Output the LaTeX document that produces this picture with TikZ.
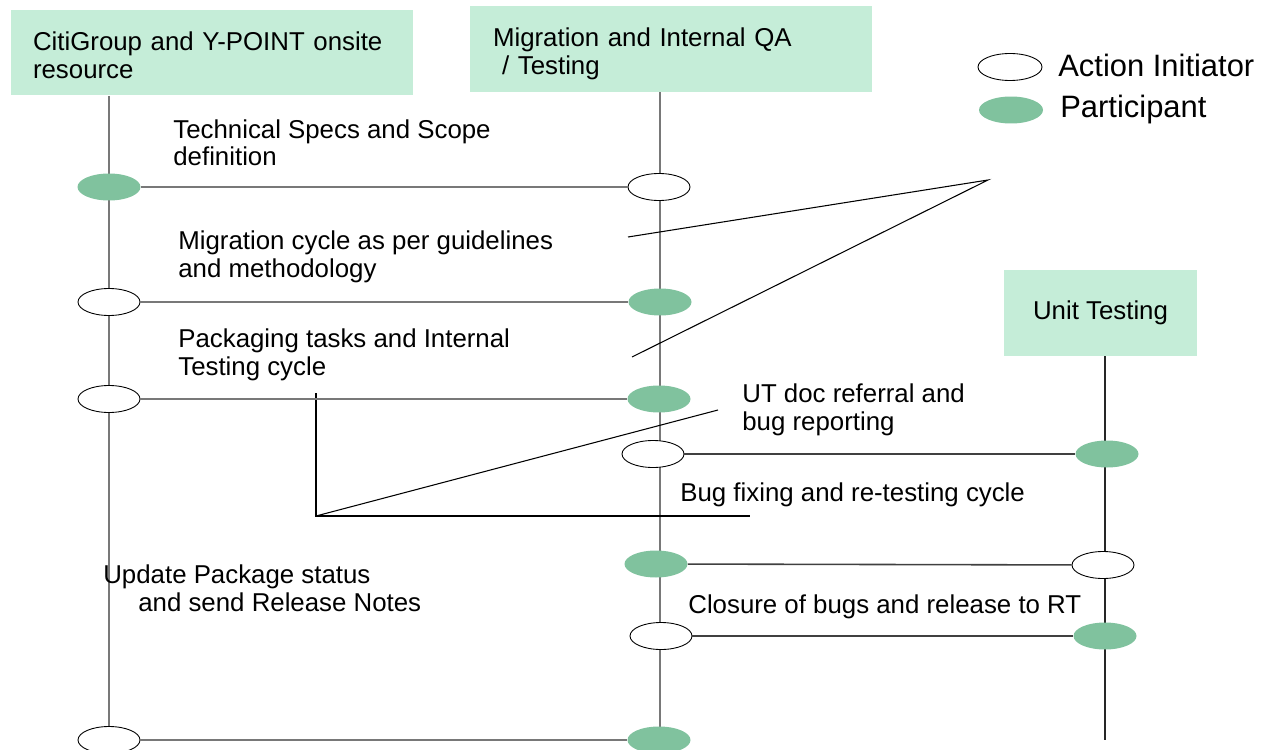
\documentclass[tikz,border=0pt]{standalone}
\usepackage{fontspec}
\setmainfont{Liberation Sans}
\usetikzlibrary{shapes.geometric}
\definecolor{boxgreen}{RGB}{197,237,216}
\definecolor{dotgreen}{RGB}{128,194,158}
\definecolor{lifegray}{RGB}{120,120,120}
\begin{document}
\begin{tikzpicture}[x=0.02cm,y=-0.02cm,
  txt/.style={font=\fontsize{14.7}{15.9}\selectfont},
  lbl/.style={txt, align=left, inner sep=0pt, anchor=base west},
  legtxt/.style={font=\fontsize{17.6}{20}\selectfont, inner sep=0pt, anchor=base west},
  box/.style={txt, fill=boxgreen, draw=none, minimum height=1.72cm},
  init/.style={ellipse, draw=black, line width=0.5pt, fill=white, minimum width=1.24cm, minimum height=0.54cm, inner sep=0pt},
  part/.style={ellipse, fill=dotgreen, draw=none, minimum width=1.26cm, minimum height=0.54cm, inner sep=0pt},
  life/.style={draw=lifegray, line width=1.1pt},
  msg/.style={draw=lifegray, line width=1.1pt},
  msgdark/.style={draw=black!75, line width=0.9pt},
  call/.style={draw=black, line width=0.6pt}]
\useasboundingbox (0,0) rectangle (1268,750);

% header boxes
\node[box, minimum width=8.04cm, text width=7.16cm, inner xsep=0.44cm, align=left] (hcity) at (212,52.5) {\rule{0pt}{14pt}CitiGroup and Y-POINT onsite\\resource};
\node[box, minimum width=8.04cm, text width=7.12cm, inner xsep=0.46cm, align=left] (hmig) at (671,49) {\rule{0pt}{16.5pt}Migration and Internal QA\\\hspace*{0.35em}/ Testing};
\node[box, minimum width=3.86cm, align=center] (hunit) at (1100.5,313) {Unit Testing};

% lifelines
\coordinate (e1) at (109,750);
\coordinate (e2) at (660,750);
\coordinate (e3) at (1105,740);
\draw[life] (hcity.south -| e1) -- (e1);
\draw[life] (hmig.south -| e2) -- (e2);
\draw[draw=black!85, line width=0.8pt] (hunit.south -| e3) -- (e3);

% callout lines
\coordinate (v1) at (988,180);
\coordinate (v1a) at (628,237);
\coordinate (v1b) at (632,357);
\draw[call] (v1a) -- (v1) -- (v1b);
\coordinate (k0) at (316,393);
\coordinate (k1) at (316,516);
\coordinate (k2) at (750,516);
\coordinate (k3) at (718,410);
\draw[call] (k0) -- (k1) -- (k2);
\draw[call] (k1) -- (k3);

% activation ellipses
\node[part] (a1) at (109,187) {};
\node[init] (b1) at (659,187) {};
\node[init] (a2) at (109,302) {};
\node[part] (b2) at (660,302) {};
\node[init] (a3) at (109,399) {};
\node[part] (b3) at (659,399) {};
\node[init] (b4) at (653,454) {};
\node[part] (c4) at (1107,454) {};
\node[part] (b5) at (656,564) {};
\node[init] (c5) at (1103,565) {};
\node[init] (b6) at (661,636) {};
\node[part] (c6) at (1105,636) {};
\node[init] (a7) at (109,740) {};
\node[part] (b7) at (659,740) {};

% messages
\draw[msg] (a1) -- (b1);
\draw[msg] (a2) -- (b2);
\draw[msg] (a3) -- (b3);
\draw[msgdark] (b4) -- (c4);
\draw[msgdark] (b5) -- (c5);
\draw[msgdark] (b6) -- (c6);
\draw[msg] (a7) -- (b7);

% labels (base = baseline of last line)
\node[lbl] (l1) at (173,166) {Technical Specs and Scope\\definition};
\node[lbl] (l2) at (178,277) {Migration cycle as per guidelines\\and methodology};
\node[lbl] (l3) at (178,375) {Packaging tasks and Internal\\Testing cycle};
\node[lbl] (l4) at (742,430) {UT doc referral and\\bug reporting};
\node[lbl] (l5) at (680,501) {Bug fixing and re-testing cycle};
\node[lbl] (l6) at (103,611) {Update Package status\\\hspace*{0.7cm}and send Release Notes};
\node[lbl] (l7) at (688,613) {Closure of bugs and release to RT};

% legend
\node[init, minimum width=1.28cm] (leg1) at (1010,67) {};
\node[legtxt] (legt1) at (1058,77) {Action Initiator};
\node[part, minimum width=1.28cm] (leg2) at (1011,110) {};
\node[legtxt] (legt2) at (1060,118) {Participant};
\end{tikzpicture}
\end{document}
